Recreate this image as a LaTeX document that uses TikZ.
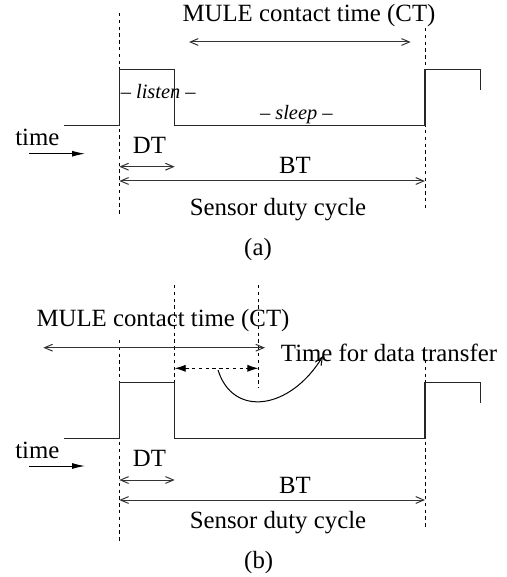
\documentclass[tikz,border=0pt]{standalone}
\usepackage{fontspec}
\setmainfont{Liberation Serif}
\usetikzlibrary{arrows.meta}

\begin{document}
\begin{tikzpicture}[
        x=0.5pt,
        y=-0.5pt,
        guide/.style={dash pattern=on 1.7pt off 1.7pt, line width=0.45pt},
        wave/.style={line width=0.55pt, black!85},
        span/.style={{Straight Barb[length=4pt,width=3.4pt]}-{Straight Barb[length=4pt,width=3.4pt]}, line width=0.5pt, black!80},
        label/.style={inner sep=0pt, anchor=base, font=\fontsize{12.4}{14}\selectfont},
        state/.style={inner sep=0pt, anchor=base, font=\fontsize{10.2}{12}\selectfont\itshape},
        flow/.style={-{Latex[length=6.5pt,width=3pt]}, line width=0.5pt}
    ]
        \useasboundingbox (0,0) rectangle (507,577);

        % (a) plain duty cycle, contact time over the sleep phase
        \draw[guide] (119.3,13) -- (119.3,215);
        \draw[guide] (425,28) -- (425,208);
        \draw[wave] (64,125.7) -- (119.3,125.7) -- (119.3,69.3) -- (174.7,69.3) -- (174.7,125.7)
            -- (425,125.7) -- (425,69.3) -- (480.7,69.3) -- (480.7,90);

        \node[label] (ctA) at (309,21.7) {MULE contact time (CT)};
        \coordinate (ctAl) at (189,42);
        \coordinate (ctAr) at (410.7,42);
        \draw[span] (ctAl) -- (ctAr);

        \node[state] (listen) at (158.2,98.3) {-- listen --};
        \node[state] (sleep) at (296.3,120) {-- sleep --};

        \node[label] (timeA) at (37.3,145.7) {time};
        \coordinate (timeAs) at (29,153.7);
        \coordinate (timeAe) at (85,153.7);
        \draw[flow] (timeAs) -- (timeAe);

        \node[label] (dtA) at (149.5,153.3) {DT};
        \coordinate (dtAl) at (119.3,166.7);
        \coordinate (dtAr) at (174.7,166.7);
        \draw[span] (dtAl) -- (dtAr);

        \node[label] (btA) at (295,174) {BT};
        \coordinate (btAl) at (119.3,181);
        \coordinate (btAr) at (425,181);
        \draw[span] (btAl) -- (btAr);

        \node[label] (dutyA) at (278,215) {Sensor duty cycle};
        \node[label] (capA) at (258,255) {(a)};

        % (b) contact time reaching back before the listen phase
        \draw[guide] (119.3,340) -- (119.3,543.3);
        \draw[guide] (174.7,285) -- (174.7,382.7);
        \draw[guide] (258.3,285) -- (258.3,388);
        \draw[guide] (425,360) -- (425,528);
        \draw[wave] (64,438.3) -- (119.3,438.3) -- (119.3,382.7) -- (174.7,382.7) -- (174.7,438.3)
            -- (425,438.3) -- (425,382.7) -- (480.7,382.7) -- (480.7,403.3);

        \node[label] (ctB) at (163,326.7) {MULE contact time (CT)};
        \coordinate (ctBl) at (43.3,347.7);
        \coordinate (ctBr) at (265,347.7);
        \draw[span] (ctBl) -- (ctBr);

        \coordinate (xferl) at (174.7,368.3);
        \coordinate (xferr) at (258.3,368.3);
        \draw[{Latex[length=5.5pt,width=3.6pt]}-{Latex[length=5.5pt,width=3.6pt]}, guide] (xferl) -- (xferr);

        \node[label] (xfer) at (389,361.7) {Time for data transfer};
        \coordinate (bendS) at (218,370);
        \coordinate (bendE) at (323,356);
        \draw[-{Straight Barb[length=4pt,width=3.4pt]}, line width=0.5pt] (bendS) .. controls (233,418) and (290,410) .. (bendE);

        \node[label] (timeB) at (37.3,458.3) {time};
        \coordinate (timeBs) at (29,466);
        \coordinate (timeBe) at (85,466);
        \draw[flow] (timeBs) -- (timeBe);

        \node[label] (dtB) at (149.5,466) {DT};
        \coordinate (dtBl) at (119.3,480);
        \coordinate (dtBr) at (174.7,480);
        \draw[span] (dtBl) -- (dtBr);

        \node[label] (btB) at (295,493.3) {BT};
        \coordinate (btBl) at (119.3,500);
        \coordinate (btBr) at (425,500);
        \draw[span] (btBl) -- (btBr);

        \node[label] (dutyB) at (278,528.3) {Sensor duty cycle};
        \node[label] (capB) at (258.7,568) {(b)};

    \end{tikzpicture}
\end{document}
